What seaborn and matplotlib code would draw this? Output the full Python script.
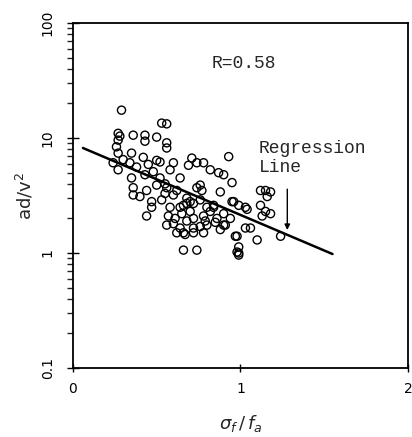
import numpy as np
import pandas as pd
import matplotlib
matplotlib.use("Agg")
import matplotlib.pyplot as plt
import matplotlib.ticker as mticker
import seaborn as sns

# values
sigma_ratio = [0.29, 0.53, 0.56, 0.27, 0.28, 0.36, 0.43, 0.43, 0.50, 0.27,
               0.56, 0.56, 0.26, 0.27, 0.35, 0.42, 0.24, 0.27, 0.34, 0.50,
               0.52, 0.60, 0.71, 0.69, 0.74, 0.78, 0.82, 0.87, 0.90, 0.93,
               0.95, 0.64, 0.58, 0.48, 0.43, 0.35, 0.36, 0.36, 0.40, 0.44,
               0.47, 0.47, 0.44, 0.52, 0.56, 0.60, 0.58, 0.64, 0.68, 0.72,
               0.74, 0.77, 0.76, 0.80, 0.78, 0.84, 0.86, 0.90, 0.72, 0.76,
               0.56, 0.64, 0.67, 0.72, 0.78, 0.66, 0.74, 0.80, 0.96, 0.97,
               0.98, 0.99, 0.61, 0.62, 0.76, 0.88, 1.12, 1.15, 1.18, 1.16,
               0.95, 0.99, 1.03, 1.04, 1.12, 1.15, 1.18, 1.13, 0.66, 0.70,
               0.84, 0.90, 0.79, 0.85, 0.91, 0.72, 1.03, 1.06, 0.98, 1.10,
               1.24, 0.66, 0.99, 0.99, 0.30, 0.38, 0.45, 0.55, 0.50, 0.62,
               0.68, 0.53, 0.57, 0.60, 0.65, 0.70, 0.82, 0.88, 0.94, 0.68,
               0.55]
ad_v2 = [17.5, 13.5, 13.3, 11.0, 10.4, 10.6, 10.6, 9.4, 10.2, 9.6,
         9.1, 8.2, 8.4, 7.4, 7.4, 6.8, 6.1, 5.3, 6.1, 6.4,
         6.2, 6.1, 6.7, 5.8, 6.1, 6.1, 5.3, 5.0, 4.8, 6.9,
         4.1, 4.5, 5.3, 5.1, 4.8, 4.5, 3.7, 3.2, 3.1, 3.5,
         2.8, 2.5, 2.1, 4.5, 3.7, 3.2, 2.5, 2.5, 2.7, 2.7,
         3.7, 3.5, 2.9, 2.5, 2.1, 2.5, 2.0, 1.75, 2.0, 1.7,
         1.75, 1.65, 1.45, 1.5, 1.5, 1.06, 1.06, 1.75, 2.8, 1.4,
         1.02, 0.96, 2.0, 1.5, 3.9, 3.4, 3.5, 3.5, 3.4, 3.1,
         2.8, 2.6, 2.5, 2.4, 2.6, 2.3, 2.2, 2.1, 2.6, 2.8,
         2.6, 2.2, 1.9, 1.85, 1.75, 1.65, 1.65, 1.65, 1.4, 1.3,
         1.4, 1.5, 1.13, 1.0, 6.5, 5.6, 5.9, 4.0, 3.9, 3.5,
         3.0, 2.9, 2.1, 1.8, 2.2, 2.3, 2.3, 1.6, 2.0, 1.9,
         3.3]

reg_x = [0.06, 1.55]
reg_y = [8.2, 0.98]

df = pd.DataFrame({"sigma": sigma_ratio, "ad": ad_v2})
reg = pd.DataFrame({"sigma": reg_x, "ad": reg_y})

sns.set_theme(style="white")
plt.rcParams["font.family"] = ["DejaVu Sans"]

fig = plt.figure(figsize=(4.12, 4.37), dpi=100)
ax = fig.add_axes([0.177, 0.158, 0.813, 0.789])

sns.scatterplot(data=df, x="sigma", y="ad", ax=ax, marker="o", s=34,
                facecolor="none", edgecolor="black", linewidth=1.0)
sns.lineplot(data=reg, x="sigma", y="ad", ax=ax, color="black", linewidth=1.8)

ax.set_yscale("log")
ax.set_xlim(0, 2)
ax.set_ylim(0.1, 100)

ax.set_xticks([0, 1, 2])
ax.set_xticklabels(["0", "1", "2"], fontsize=10)
ax.yaxis.set_major_locator(mticker.FixedLocator([0.1, 1, 10, 100]))
ax.yaxis.set_minor_locator(mticker.LogLocator(base=10, subs=np.arange(2, 10)))
ax.yaxis.set_minor_formatter(mticker.NullFormatter())
ax.set_yticklabels(["0.1", "1", "10", "100"], fontsize=10, rotation=90, va="center")

ax.tick_params(axis="x", which="major", direction="inout", length=6, width=1,
               bottom=True, top=False, pad=7, colors="black")
ax.tick_params(axis="y", which="major", direction="inout", length=8, width=1,
               left=True, right=False, pad=9, colors="black")
ax.tick_params(axis="y", which="minor", direction="out", length=4, width=1,
               left=True, right=False)

for sp in ax.spines.values():
    sp.set_color("black")
    sp.set_linewidth(1.3)

ax.set_xlabel(r"$\sigma_f\,/\,f_a$", fontsize=13, labelpad=12)
ax.set_ylabel(r"ad/v$^2$", fontsize=13, labelpad=4)

ax.text(0.83, 45, "R=0.58", family="Liberation Mono", fontsize=13,
        va="center", ha="left")
ax.text(1.11, 9.6, "Regression\nLine", family="Liberation Mono", fontsize=13,
        va="top", ha="left", linespacing=1.15)
ax.annotate("", xy=(1.28, 1.5), xytext=(1.28, 3.8),
            arrowprops=dict(arrowstyle="-|>", color="black", lw=1.0,
                            mutation_scale=8))

fig.savefig("out.png", dpi=100)
